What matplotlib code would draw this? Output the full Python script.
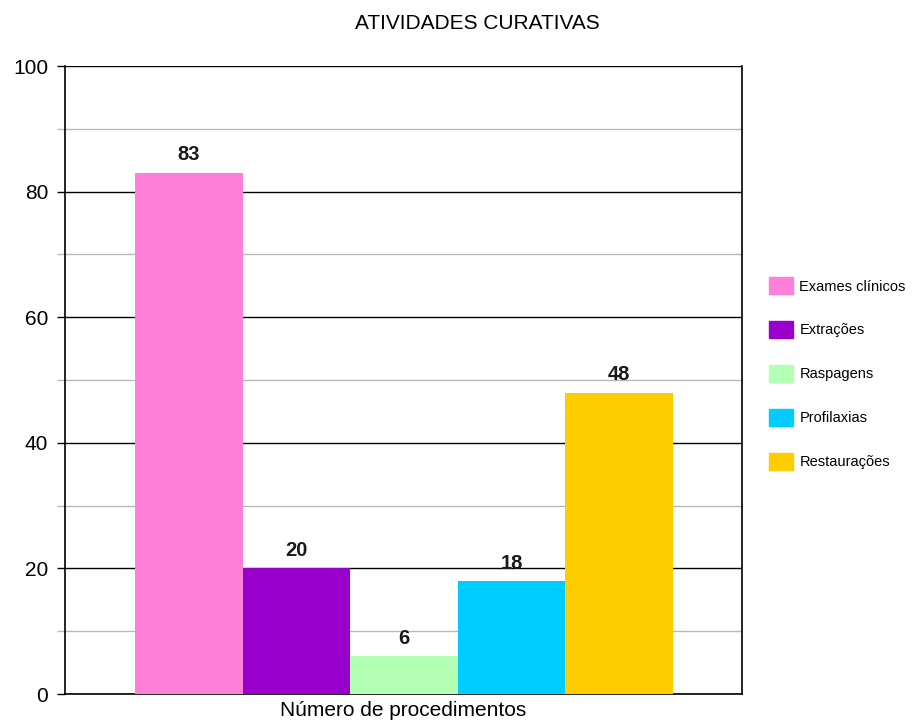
import matplotlib.pyplot as plt
from matplotlib.patches import Patch
import numpy as np

plt.rcParams['font.family'] = ['Liberation Sans', 'DejaVu Sans']

categories = ['Exames clínicos', 'Extrações', 'Raspagens', 'Profilaxias', 'Restaurações']
values = [83, 20, 6, 18, 48]
colors = ['#ff80d8', '#9900cc', '#b3ffb3', '#00ccff', '#ffcc00']
yticks = [0, 20, 40, 60, 80, 100]

fig = plt.figure(figsize=(9.18, 7.24), dpi=100)
ax = fig.add_axes([0.0708, 0.0414, 0.7375, 0.8674])

x = np.arange(len(values))
bars = ax.bar(x, values, width=1.0, color=colors, zorder=3)
for b, v in zip(bars, values):
    ax.annotate(str(v), (b.get_x() + b.get_width() / 2, v), xytext=(0, 6),
                textcoords='offset points', ha='center', va='bottom',
                fontsize=14.5, fontweight='bold', color='#1a1a1a')

ax.set_xlim(-1.15, 5.14)
ax.set_ylim(0, 100)
ax.set_yticks(yticks)
ax.set_yticks(np.arange(10, 100, 20), minor=True)
ax.yaxis.grid(True, which='major', color='black', lw=1.0, zorder=0)
ax.yaxis.grid(True, which='minor', color='#b8b8b8', lw=1.0, zorder=0)
ax.tick_params(axis='y', which='major', labelsize=15, length=6, width=1, pad=6)
ax.tick_params(axis='y', which='minor', length=6, width=1, color='#b8b8b8')
ax.set_xticks([])
for s in ax.spines.values():
    s.set_linewidth(1.2)
ax.spines['top'].set_visible(False)

ax.set_xlabel('Número de procedimentos', fontsize=15, labelpad=5)
fig.text(0.52, 0.968, 'ATIVIDADES CURATIVAS', ha='center', va='center', fontsize=15)

handles = [Patch(color=c) for c in colors]
fig.legend(handles, categories, loc='upper left', bbox_to_anchor=(0.823, 0.635),
           frameon=False, fontsize=10.5, labelspacing=1.85, handlelength=1.65,
           handleheight=1.4, handletextpad=0.45)

fig.savefig('out.png', dpi=100)
